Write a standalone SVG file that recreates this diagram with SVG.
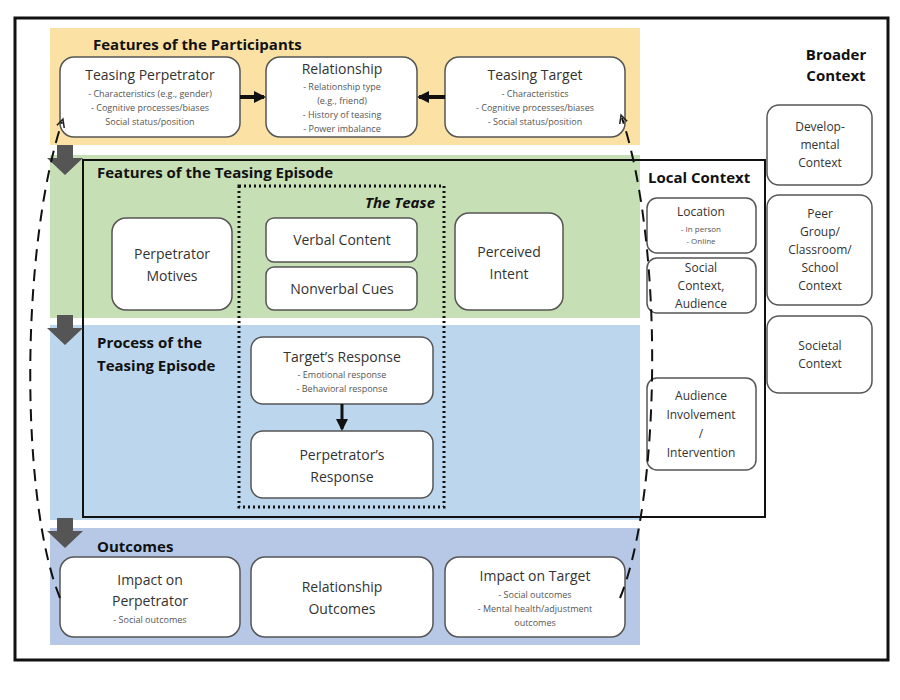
<svg xmlns="http://www.w3.org/2000/svg" width="900" height="700" viewBox="0 0 900 700">
<style>
text{font-family:"Open Sans","Liberation Sans",sans-serif;fill:#333;text-anchor:middle}
.h{font-weight:bold;fill:#111;text-anchor:start;font-size:15px}
.n{fill:#fff;stroke:#555;stroke-width:1.5}
.t{font-size:14px}
.s{font-size:9px;fill:#555}
.ga{fill:#555}
</style>
<defs>
<marker id="ah" markerWidth="12" markerHeight="12" refX="10" refY="6" orient="auto" markerUnits="userSpaceOnUse"><path d="M0,0L12,6L0,12z" fill="#111"/></marker>
<marker id="ah2" markerWidth="10" markerHeight="10" refX="5" refY="5" orient="auto" markerUnits="userSpaceOnUse"><path d="M0,1L8,5L0,9" fill="none" stroke="#222" stroke-width="1.5"/></marker>
</defs>
<rect width="900" height="700" fill="#fff"/>
<rect x="15" y="18" width="873" height="642" fill="none" stroke="#111" stroke-width="3"/>
<g id="bands">
<rect x="50" y="28" width="590" height="117" fill="#fbe2a4"/>
<rect x="50" y="155" width="590" height="163" fill="#c7dfb5"/>
<rect x="50" y="325" width="590" height="195" fill="#bcd7ed"/>
<rect x="50" y="528" width="590" height="117" fill="#b6c8e6"/>
<rect x="83" y="160" width="682" height="357" fill="none" stroke="#111" stroke-width="2"/>
<rect x="239" y="186" width="205" height="321" fill="none" stroke="#111" stroke-width="3" stroke-dasharray="2,3"/>
<text class="h" x="93" y="50">Features of the Participants</text>
<text class="h" x="97" y="178">Features of the Teasing Episode</text>
<text class="h" x="97" y="348">Process of the</text>
<text class="h" x="97" y="371">Teasing Episode</text>
<text class="h" x="97" y="552">Outcomes</text>
<text x="435" y="208" style="font-size:15px;font-weight:bold;font-style:italic;fill:#111;text-anchor:end">The Tease</text>
<text class="h" x="648" y="183">Local Context</text>
<text x="836" y="60" style="font-size:15px;font-weight:bold;fill:#111">Broader</text>
<text x="836" y="81" style="font-size:15px;font-weight:bold;fill:#111">Context</text>
</g>
<g id="bigarrows">
<path class="ga" d="M57,145h16v13h10l-18,17l-18,-17h10z"/>
<path class="ga" d="M57,315h16v13h10l-18,17l-18,-17h10z"/>
<path class="ga" d="M57,518h16v13h10l-18,17l-18,-17h10z"/>
</g>
<g id="n-tp"><rect class="n" x="60" y="57" width="180" height="80" rx="14"/><text class="t" x="150" y="80">Teasing Perpetrator</text><text class="s" x="150" y="97">- Characteristics (e.g., gender)</text><text class="s" x="150" y="111">- Cognitive processes/biases</text><text class="s" x="150" y="125">Social status/position</text></g>
<g id="n-rel"><rect class="n" x="266" y="57" width="151" height="80" rx="14"/><text class="t" x="342" y="74">Relationship</text><text class="s" x="342" y="90">- Relationship type</text><text class="s" x="342" y="104">(e.g., friend)</text><text class="s" x="342" y="118">- History of teasing</text><text class="s" x="342" y="132">- Power imbalance</text></g>
<g id="n-tt"><rect class="n" x="445" y="57" width="180" height="80" rx="14"/><text class="t" x="535" y="80">Teasing Target</text><text class="s" x="535" y="97">- Characteristics</text><text class="s" x="535" y="111">- Cognitive processes/biases</text><text class="s" x="535" y="125">- Social status/position</text></g>
<g id="n-pm"><rect class="n" x="112" y="218" width="120" height="92" rx="14"/><text class="t" x="172" y="259">Perpetrator</text><text class="t" x="172" y="281">Motives</text></g>
<g id="n-vc"><rect class="n" x="266" y="218" width="151" height="44" rx="8"/><text class="t" x="342" y="245">Verbal Content</text></g>
<g id="n-nc"><rect class="n" x="266" y="267" width="151" height="43" rx="8"/><text class="t" x="342" y="294">Nonverbal Cues</text></g>
<g id="n-pi"><rect class="n" x="455" y="213" width="108" height="97" rx="14"/><text class="t" x="509" y="257">Perceived</text><text class="t" x="509" y="279">Intent</text></g>
<g id="n-tr"><rect class="n" x="251" y="337" width="182" height="67" rx="12"/><text class="t" x="342" y="362">Target’s Response</text><text class="s" x="342" y="378">- Emotional response</text><text class="s" x="342" y="392">- Behavioral response</text></g>
<g id="n-pr"><rect class="n" x="251" y="431" width="182" height="67" rx="12"/><text class="t" x="342" y="460">Perpetrator’s</text><text class="t" x="342" y="482">Response</text></g>
<g id="n-loc"><rect class="n" x="647" y="198" width="109" height="55" rx="10"/><text style="font-size:12px" x="701" y="216">Location</text><text class="s" style="font-size:8px" x="701" y="232">- In person</text><text class="s" style="font-size:8px" x="701" y="244">- Online</text></g>
<g id="n-sc"><rect class="n" x="647" y="258" width="109" height="55" rx="10"/><text style="font-size:12px" x="701" y="272">Social</text><text style="font-size:12px" x="701" y="290">Context,</text><text style="font-size:12px" x="701" y="308">Audience</text></g>
<g id="n-ai"><rect class="n" x="647" y="378" width="109" height="92" rx="10"/><text style="font-size:12px" x="701" y="400">Audience</text><text style="font-size:12px" x="701" y="419">Involvement</text><text style="font-size:12px" x="701" y="438">/</text><text style="font-size:12px" x="701" y="457">Intervention</text></g>
<g id="n-dev"><rect class="n" x="767" y="105" width="105" height="80" rx="12"/><text style="font-size:12px" x="820" y="131">Develop-</text><text style="font-size:12px" x="820" y="149">mental</text><text style="font-size:12px" x="820" y="167">Context</text></g>
<g id="n-peer"><rect class="n" x="767" y="195" width="105" height="110" rx="12"/><text style="font-size:12px" x="820" y="218">Peer</text><text style="font-size:12px" x="820" y="236">Group/</text><text style="font-size:12px" x="820" y="254">Classroom/</text><text style="font-size:12px" x="820" y="272">School</text><text style="font-size:12px" x="820" y="290">Context</text></g>
<g id="n-soc"><rect class="n" x="767" y="316" width="105" height="77" rx="12"/><text style="font-size:12px" x="820" y="350">Societal</text><text style="font-size:12px" x="820" y="368">Context</text></g>
<g id="n-ip"><rect class="n" x="60" y="557" width="180" height="80" rx="14"/><text class="t" x="150" y="585">Impact on</text><text class="t" x="150" y="606">Perpetrator</text><text class="s" x="150" y="623">- Social outcomes</text></g>
<g id="n-ro"><rect class="n" x="251" y="557" width="182" height="80" rx="14"/><text class="t" x="342" y="592">Relationship</text><text class="t" x="342" y="614">Outcomes</text></g>
<g id="n-it"><rect class="n" x="445" y="557" width="180" height="80" rx="14"/><text class="t" x="535" y="581">Impact on Target</text><text class="s" x="535" y="598">- Social outcomes</text><text class="s" x="535" y="612">- Mental health/adjustment</text><text class="s" x="535" y="626">outcomes</text></g>
<g id="connectors" stroke="#111" fill="none">
<path d="M240,97H264" stroke-width="4" marker-end="url(#ah)"/>
<path d="M445,97H419" stroke-width="4" marker-end="url(#ah)"/>
<path d="M342,404V429" stroke-width="3" marker-end="url(#ah)"/>
<path d="M60,598C20,500 20,250 62,122" stroke-width="2" stroke-dasharray="12,8" marker-end="url(#ah2)"/>
<path d="M620,598C660,500 665,250 622,118" stroke-width="2" stroke-dasharray="12,8" marker-end="url(#ah2)"/>
</g>
</svg>
